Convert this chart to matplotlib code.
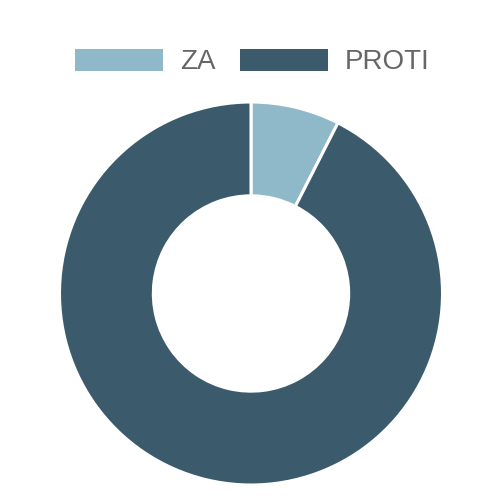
import matplotlib.pyplot as plt
from matplotlib.patches import Patch

labels = ['ZA', 'PROTI']
values = [3, 37]
colors = ['#8fb8c9', '#3b5a6b']

fig = plt.figure(figsize=(5, 5), dpi=100)
ax = fig.add_axes([0.119, 0.03, 0.766, 0.766])

ax.pie(values, colors=colors, startangle=90, counterclock=False, radius=1,
       wedgeprops=dict(width=0.49, edgecolor='white', linewidth=2.2))
ax.set_xlim(-1, 1)
ax.set_ylim(-1, 1)
ax.set_aspect('equal')
ax.axis('off')

handles = [Patch(facecolor=c, edgecolor='none') for c in colors]
leg = fig.legend(handles, labels, loc='upper center', bbox_to_anchor=(0.505, 0.93),
                 ncol=2, frameon=False, borderpad=0, handlelength=3.17, handleheight=0.83,
                 handletextpad=0.6, columnspacing=0.9,
                 prop=dict(family='Liberation Sans', size=20))
for t in leg.get_texts():
    t.set_color('#666666')

fig.savefig('out.png', dpi=100)
